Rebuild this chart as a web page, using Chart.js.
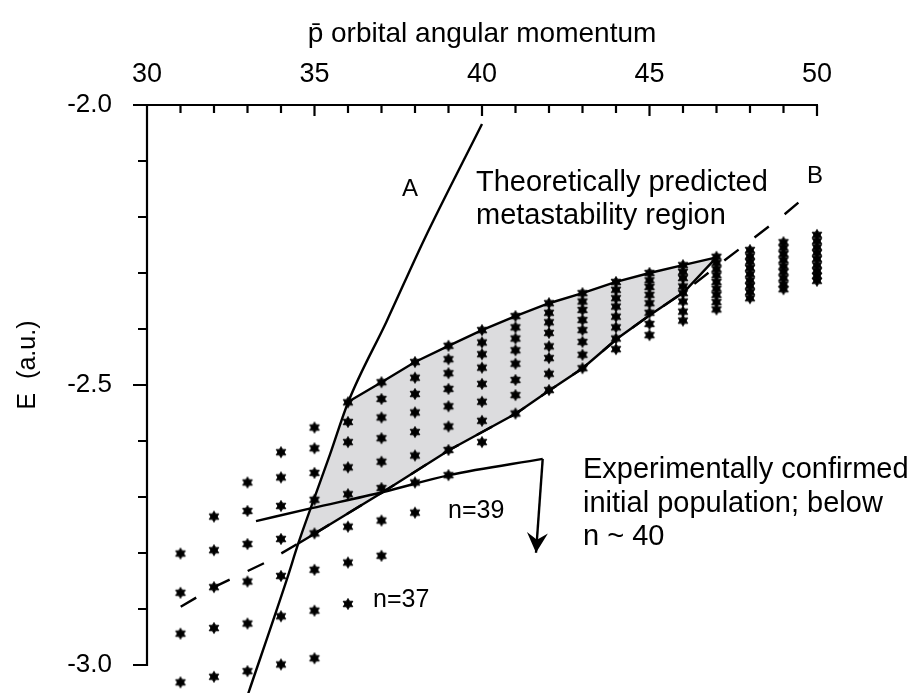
<!DOCTYPE html>
<html>
<head>
<meta charset="utf-8">
<script src="https://cdn.jsdelivr.net/npm/chart.js@4.4.1/dist/chart.umd.min.js"></script>
<style>
html,body{margin:0;padding:0;background:#fff;}
canvas{display:block;}
</style>
</head>
<body>
<canvas id="c" width="916" height="693"></canvas>
<script>
const FONT = '"Liberation Sans", Arial, Helvetica, sans-serif';

// ---- data ----
const angularMomentum = [31,32,33,34,35,36,37,38,39,40,41,42,43,44,45,46,47,48,49,50];
const levelEnergies = [
  [-2.801,-2.871,-2.944,-3.031],
  [-2.735,-2.795,-2.861,-2.934,-3.021],
  [-2.674,-2.725,-2.784,-2.851,-2.926,-3.011],
  [-2.620,-2.665,-2.716,-2.775,-2.841,-2.913,-2.999],
  [-2.576,-2.613,-2.657,-2.705,-2.765,-2.830,-2.903,-2.988],
  [-2.531,-2.566,-2.602,-2.647,-2.695,-2.753,-2.817,-2.891],
  [-2.495,-2.525,-2.558,-2.595,-2.637,-2.684,-2.742,-2.805],
  [-2.459,-2.487,-2.516,-2.549,-2.584,-2.626,-2.674,-2.728],
  [-2.430,-2.454,-2.479,-2.507,-2.538,-2.574,-2.616,-2.661],
  [-2.402,-2.424,-2.445,-2.469,-2.498,-2.530,-2.564,-2.602],
  [-2.377,-2.397,-2.417,-2.438,-2.462,-2.491,-2.518,-2.551],
  [-2.354,-2.371,-2.388,-2.407,-2.431,-2.452,-2.480,-2.509],
  [-2.336,-2.351,-2.366,-2.384,-2.402,-2.423,-2.446,-2.470],
  [-2.316,-2.330,-2.345,-2.360,-2.378,-2.397,-2.417,-2.436],
  [-2.300,-2.313,-2.325,-2.339,-2.354,-2.371,-2.391,-2.411],
  [-2.286,-2.298,-2.309,-2.324,-2.336,-2.351,-2.369,-2.385],
  [-2.271,-2.282,-2.293,-2.304,-2.316,-2.328,-2.339,-2.352,-2.365],
  [-2.259,-2.270,-2.280,-2.291,-2.302,-2.313,-2.323,-2.334,-2.345],
  [-2.245,-2.255,-2.266,-2.277,-2.288,-2.298,-2.309,-2.320,-2.329],
  [-2.232,-2.243,-2.254,-2.264,-2.275,-2.286,-2.296,-2.305,-2.314]
];

const xTickValues = [30,35,40,45,50];
const xTickLabels = ['30','35','40','45','50'];
const yTickValues = [-3.0,-2.5,-2.0];
const yTickLabels = ['-3.0','-2.5','-2.0'];

// curve A
const curveAX = [33.024,34.170,34.516,34.916,35.463,36.009,37.155,38.269,40.0];
const curveAE = [-3.0505,-2.848,-2.783,-2.715,-2.624,-2.530,-2.386,-2.241,-2.034];
// curve B (dashed)
const curveBX = [31.006,32.0,33.573,34.516,35.015,37.045,39.024,41.015,42.030,43.006,44.039,45.015,46.030,46.985,47.621,48.976,49.710];
const curveBE = [-2.896,-2.861,-2.816,-2.783,-2.765,-2.691,-2.616,-2.551,-2.509,-2.470,-2.417,-2.375,-2.334,-2.289,-2.260,-2.198,-2.161];
// metastability region boundary
const regionTopX = [34.516,34.916,35.463,36.009,37,38,39,40,41,42,43,44,45,46,47];
const regionTopE = [-2.783,-2.715,-2.624,-2.530,-2.495,-2.459,-2.430,-2.402,-2.377,-2.354,-2.336,-2.316,-2.300,-2.286,-2.272];
const regionBottomX = [47,46.030,45.015,44.039,43.006,42.030,41.015,39.024,37.045,35.015,34.516];
const regionBottomE = [-2.272,-2.334,-2.375,-2.417,-2.470,-2.509,-2.551,-2.616,-2.691,-2.765,-2.783];
// n = 39 line and arrow
const n39X = [33.254,34.916,37.054,39.024,41.812];
const n39E = [-2.743,-2.720,-2.691,-2.661,-2.632];
const arrowX = [41.812,41.612];
const arrowE = [-2.632,-2.7995];

// ---- helpers ----
const pts = (xs, es) => xs.map((x, i) => ({x, y: es[i]}));

function makeStar(R) {
  const c = document.createElement('canvas');
  const s = Math.ceil(2 * R + 2);
  c.width = s; c.height = s;
  const g = c.getContext('2d');
  const cx = s / 2, cy = s / 2;
  g.beginPath();
  for (let i = 0; i < 12; i++) {
    const r = (i % 2) ? R / Math.sqrt(3) : R;
    const a = -Math.PI / 2 + i * Math.PI / 6;
    const px = cx + r * Math.cos(a), py = cy + r * Math.sin(a);
    if (i === 0) g.moveTo(px, py); else g.lineTo(px, py);
  }
  g.closePath();
  g.fillStyle = '#000';
  g.fill();
  g.strokeStyle = '#000';
  g.lineWidth = 0.8;
  g.stroke();
  return c;
}
const starImg = makeStar(5.6);

const levelPoints = [];
angularMomentum.forEach((l, i) => levelEnergies[i].forEach(e => levelPoints.push({x: l, y: e})));

const regionPolygon = pts(regionTopX, regionTopE).concat(pts(regionBottomX, regionBottomE));

const lineDs = (label, data, extra) => Object.assign({
  label, data, showLine: true, borderColor: '#000', borderWidth: 2.4,
  pointRadius: 0, fill: false, tension: 0, order: 3
}, extra || {});

// ---- plugin: axes, ticks, annotations ----
const decorPlugin = {
  id: 'decor',
  afterDatasetsDraw(chart) {
    const {ctx} = chart;
    const meta = chart.getDatasetMeta(6);
    const p0 = meta.data[0], p1 = meta.data[1];
    let dx = p1.x - p0.x, dy = p1.y - p0.y;
    const L = Math.hypot(dx, dy); dx /= L; dy /= L;
    const nx = -dy, ny = dx;
    ctx.save();
    ctx.fillStyle = '#000';
    ctx.beginPath();
    ctx.moveTo(p1.x, p1.y);
    ctx.lineTo(p1.x - dx * 20 + nx * 10.5, p1.y - dy * 20 + ny * 10.5);
    ctx.lineTo(p1.x - dx * 13, p1.y - dy * 13);
    ctx.lineTo(p1.x - dx * 20 - nx * 10.5, p1.y - dy * 20 - ny * 10.5);
    ctx.closePath();
    ctx.fill();
    ctx.restore();
  },
  afterDraw(chart) {
    const {ctx, scales: {x, y}} = chart;
    const xl = x.getPixelForValue(30), xr = x.getPixelForValue(50);
    const yt = y.getPixelForValue(-2.0), yb = y.getPixelForValue(-3.0);
    ctx.save();
    ctx.strokeStyle = '#000';
    ctx.lineWidth = 2.2;
    ctx.lineCap = 'butt';
    ctx.beginPath();
    ctx.moveTo(xl - 1, yt); ctx.lineTo(xr + 1, yt);
    ctx.moveTo(xl, yt); ctx.lineTo(xl, yb + 1);
    for (let v = 31; v <= 50; v++) {
      const px = x.getPixelForValue(v);
      const len = (v % 5 === 0) ? 11 : 8;
      ctx.moveTo(px, yt); ctx.lineTo(px, yt + len);
    }
    for (let k = 0; k <= 10; k++) {
      const py = y.getPixelForValue(-2.0 - k * 0.1);
      const len = (k % 5 === 0) ? 14 : 9;
      ctx.moveTo(xl, py); ctx.lineTo(xl - len, py);
    }
    ctx.stroke();

    ctx.fillStyle = '#000';
    ctx.textBaseline = 'alphabetic';
    ctx.font = '28px ' + FONT;
    ctx.textAlign = 'center';
    ctx.fillText('p\u0304 orbital angular momentum', (xl + xr) / 2, 42);
    ctx.save();
    ctx.translate(35, 365);
    ctx.rotate(-Math.PI / 2);
    ctx.font = '25px ' + FONT;
    ctx.textAlign = 'center';
    ctx.fillText('E  (a.u.)', 0, 0);
    ctx.restore();

    ctx.textAlign = 'left';
    ctx.font = '29px ' + FONT;
    ctx.fillText('Theoretically predicted', 476, 191);
    ctx.fillText('metastability region', 476, 223.5);
    ctx.fillText('Experimentally confirmed', 583, 478);
    ctx.fillText('initial population; below', 583, 511.5);
    ctx.fillText('n ~ 40', 583, 545);

    ctx.font = '25px ' + FONT;
    ctx.fillText('n=39', 448, 518);
    ctx.fillText('n=37', 373, 607);

    ctx.font = '24px ' + FONT;
    ctx.textAlign = 'center';
    ctx.fillText('A', 410, 196);
    ctx.fillText('B', 815, 183);
    ctx.restore();
  }
};

new Chart(document.getElementById('c'), {
  type: 'scatter',
  data: {
    datasets: [
      {label: 'region', data: regionPolygon, showLine: true, fill: 'shape',
       backgroundColor: 'rgb(220,220,222)', borderWidth: 0, borderColor: 'rgba(0,0,0,0)',
       pointRadius: 0, tension: 0, order: 10},
      lineDs('A', pts(curveAX, curveAE), {cubicInterpolationMode: 'monotone'}),
      lineDs('B', pts(curveBX, curveBE), {borderDash: [18, 20]}),
      lineDs('regionTop', pts(regionTopX.slice(3), regionTopE.slice(3))),
      lineDs('regionBottom', pts(regionBottomX, regionBottomE)),
      lineDs('n39', pts(n39X, n39E), {cubicInterpolationMode: 'monotone'}),
      lineDs('arrow', pts(arrowX, arrowE)),
      {label: 'levels', data: levelPoints, pointStyle: starImg, pointRadius: 5,
       showLine: false, order: 1, clip: false}
    ]
  },
  options: {
    responsive: false,
    animation: false,
    devicePixelRatio: 1,
    events: [],
    layout: {autoPadding: false, padding: {left: 0, right: 99, top: 0, bottom: 0}},
    plugins: {legend: {display: false}, tooltip: {enabled: false}},
    scales: {
      x: {
        type: 'linear', position: 'top', min: 30, max: 50,
        afterBuildTicks: s => { s.ticks = xTickValues.map(v => ({value: v})); },
        afterFit: s => { s.height = 105; s.paddingLeft = 0; s.paddingRight = 0; },
        ticks: {callback: (v, i) => xTickLabels[i], font: {family: FONT, size: 27},
                color: '#000', padding: 14, maxRotation: 0, autoSkip: false},
        grid: {display: false, drawTicks: false},
        border: {display: false}
      },
      y: {
        type: 'linear', position: 'left', min: -3.05, max: -2.0,
        afterBuildTicks: s => { s.ticks = yTickValues.map(v => ({value: v})); },
        afterFit: s => { s.width = 147; s.paddingTop = 0; s.paddingBottom = 0; },
        ticks: {callback: (v, i) => yTickLabels[i], font: {family: FONT, size: 26},
                color: '#000', padding: 35, autoSkip: false},
        grid: {display: false, drawTicks: false},
        border: {display: false}
      }
    }
  },
  plugins: [decorPlugin]
});
</script>
</body>
</html>
